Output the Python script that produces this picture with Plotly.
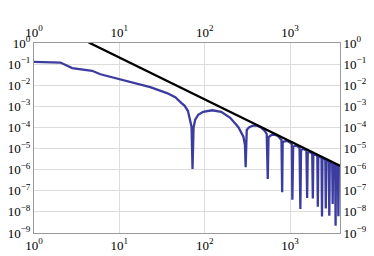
import plotly.graph_objects as go

# ---- data ----
curve_x = [1.0, 2.04, 2.80, 3.66, 4.79, 6.0, 7.86, 10.27, 14.7, 23.0, 36.1, 45.2, 53.1, 58.3, 63.6, 67.7, 70.1, 72.0,
           74.0, 77.4, 83.9, 96, 122.4, 156, 199, 248, 284, 296, 301.7,
           310.8, 329.7, 361.3, 406.8, 458.0, 501.9, 532.5, 548,
           559.1, 582.1, 616.0, 665.9, 720.0, 761.9, 793.3, 808,
           819.4, 841.7, 927.5, 1021.9, 1049.8, 1064,
           1087, 1185, 1291, 1320,
           1345, 1446, 1555, 1585,
           1611, 1711, 1818, 1848,
           1873, 1977, 2086, 2114,
           2143, 2237, 2336, 2367,
           2399, 2492, 2588, 2623,
           2659, 2749, 2843, 2881,
           2921, 3017, 3116, 3158,
           3192, 3284, 3378, 3415,
           3451, 3545, 3642, 3681,
           3723, 3845]
curve_y = [0.129, 0.119, 0.0648, 0.0538, 0.0483, 0.033, 0.0251, 0.0181, 0.0126, 0.00816, 0.00425, 0.00269, 0.00147,
           0.00106, 5.97e-4, 2.31e-4, 1.08e-4, 1.07e-6,
           9.7e-5, 2.31e-4, 3.98e-4, 5.52e-4, 6.5e-4, 5.52e-4, 2.87e-4, 1.02e-4, 3.62e-5, 1.51e-5, 1.30e-6,
           7.6e-5, 1.01e-4, 1.20e-4, 1.25e-4, 9.9e-5, 7.1e-5, 4.9e-5, 3.64e-7,
           3.36e-5, 3.99e-5, 4.50e-5, 4.41e-5, 3.95e-5, 3.21e-5, 2.53e-5, 8.5e-8,
           1.88e-5, 2.14e-5, 2.29e-5, 1.84e-5, 1.55e-5, 3.77e-8,
           1.23e-5, 1.40e-5, 1.08e-5, 1.37e-8,
           8.6e-6, 9.6e-6, 7.7e-6, 4.58e-8,
           6.33e-6, 6.90e-6, 5.67e-6, 4.3e-8,
           4.82e-6, 5.20e-6, 4.42e-6, 1.75e-8,
           3.79e-6, 4.05e-6, 3.55e-6, 6.1e-9,
           3.11e-6, 3.29e-6, 2.92e-6, 1.44e-8,
           2.56e-6, 2.70e-6, 2.42e-6, 6.6e-9,
           2.13e-6, 2.25e-6, 2.01e-6, 2.36e-8,
           1.82e-6, 1.91e-6, 1.75e-6, 2.21e-9,
           1.57e-6, 1.64e-6, 1.50e-6, 6.2e-9,
           1.37e-6, 1.41e-6]

line_x = [4.375, 3845]
line_y = [1.056, 1.53e-6]

x_tickvals = [1, 10, 100, 1000]
x_ticktext = ["10<sup>0</sup>", "10<sup>1</sup>", "10<sup>2</sup>", "10<sup>3</sup>"]
y_tickvals = [1, 1e-1, 1e-2, 1e-3, 1e-4, 1e-5, 1e-6, 1e-7, 1e-8, 1e-9]
y_ticktext = ["10<sup>0</sup>"] + ["10<sup>\u2212%d</sup>" % k for k in range(1, 10)]

x_range = [0, 3.585]
y_range = [-9, 0]

font = dict(family="Liberation Serif", size=13, color="#000000")

fig = go.Figure()
fig.add_trace(go.Scatter(x=curve_x, y=curve_y, mode="lines",
                         line=dict(color="#3b3c9e", width=2.3), xaxis="x", yaxis="y",
                         showlegend=False, hoverinfo="skip"))
fig.add_trace(go.Scatter(x=line_x, y=line_y, mode="lines",
                         line=dict(color="#000000", width=2.3), xaxis="x2", yaxis="y2",
                         showlegend=False, hoverinfo="skip"))

axis_common = dict(type="log", ticks="", ticklen=0, showline=True, linecolor="#9a9a9a", linewidth=1,
                   tickfont=font, zeroline=False, automargin=False)

# the page body adds an 8px offset, so the figure is 8px smaller than the window
fig.update_layout(
    width=366, height=248,
    margin=dict(l=26, r=34, t=35, b=23, pad=0),
    paper_bgcolor="white", plot_bgcolor="white",
    font=font,
    xaxis=dict(range=x_range, tickvals=x_tickvals, ticktext=x_ticktext,
               showgrid=True, gridcolor="#dcdcdc", gridwidth=1, **axis_common),
    yaxis=dict(range=y_range, tickvals=y_tickvals, ticktext=y_ticktext,
               showgrid=True, gridcolor="#dcdcdc", gridwidth=1, **axis_common),
    xaxis2=dict(range=x_range, tickvals=x_tickvals, ticktext=x_ticktext, overlaying="x",
                side="top", showgrid=False, **axis_common),
    yaxis2=dict(range=y_range, tickvals=y_tickvals, ticktext=y_ticktext, overlaying="y",
                side="right", showgrid=False, **axis_common),
)

fig.write_html("out.html")
